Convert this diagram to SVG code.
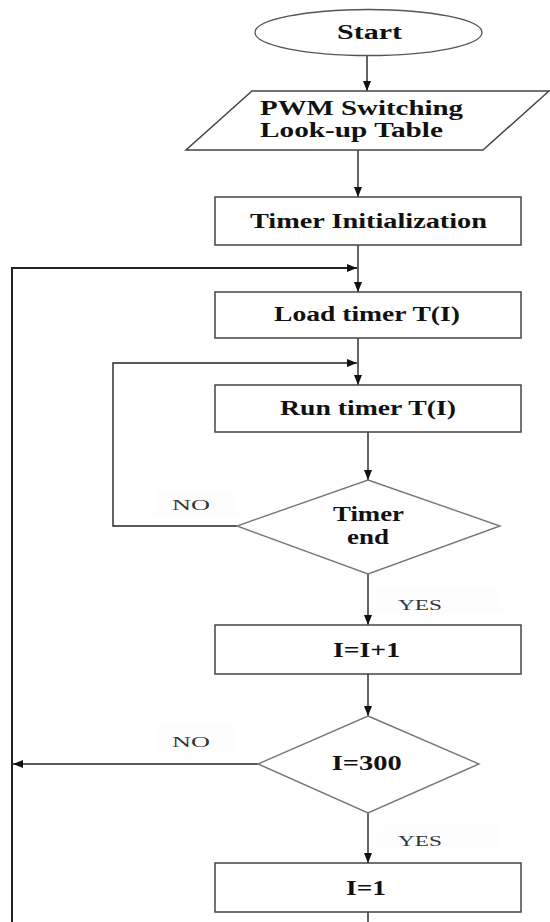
<svg xmlns="http://www.w3.org/2000/svg" width="550" height="922" viewBox="0 0 550 922">
<defs>
<style>
.box{fill:#fff;stroke:#444;stroke-width:1.5}
.dia{fill:#fff;stroke:#777;stroke-width:1.4}
.ln{fill:none;stroke:#222;stroke-width:1.4}
.t{font-family:"Liberation Serif","Times New Roman",serif;font-weight:bold;font-size:20px;fill:#111}
.lb{font-family:"Liberation Serif","Times New Roman",serif;font-size:14px;fill:#333}
.lbbg{fill:#fdfdfd;stroke:none}
</style>
<marker id="ah" markerUnits="userSpaceOnUse" markerWidth="10" markerHeight="10" viewBox="0 0 10 10" refX="10" refY="5" orient="auto">
<path d="M0,1 L10,5 L0,9 Z" fill="#111"/>
</marker>
</defs>
<rect width="550" height="922" fill="#fff"/>
<g id="connectors">
<line class="ln" x1="367" y1="55" x2="367" y2="91" marker-end="url(#ah)"/>
<line class="ln" x1="358" y1="150" x2="358" y2="197" marker-end="url(#ah)"/>
<line class="ln" x1="358" y1="245" x2="358" y2="292" marker-end="url(#ah)"/>
<polyline class="ln" points="12,922 12,268 357,268" style="stroke-width:2" marker-end="url(#ah)"/>
<line class="ln" x1="358" y1="338" x2="358" y2="385" marker-end="url(#ah)"/>
<polyline class="ln" points="237,526 113,526 113,363 357,363" marker-end="url(#ah)"/>
<line class="ln" x1="368" y1="432" x2="368" y2="480" marker-end="url(#ah)"/>
<line class="ln" x1="368" y1="574" x2="368" y2="625" marker-end="url(#ah)"/>
<line class="ln" x1="368" y1="674" x2="368" y2="716" marker-end="url(#ah)"/>
<line class="ln" x1="258" y1="764" x2="13" y2="764" marker-end="url(#ah)"/>
<line class="ln" x1="368" y1="813" x2="368" y2="863" marker-end="url(#ah)"/>
<line class="ln" x1="368" y1="912" x2="368" y2="922"/>
<rect class="lbbg" x="154" y="490" width="84" height="25"/>
<text class="lb" x="191" y="510" text-anchor="middle" textLength="38" lengthAdjust="spacingAndGlyphs">NO</text>
<rect class="lbbg" x="377" y="590" width="125" height="23"/>
<text class="lb" x="420" y="610" text-anchor="middle" textLength="44" lengthAdjust="spacingAndGlyphs">YES</text>
<rect class="lbbg" x="154" y="726" width="83" height="27"/>
<text class="lb" x="191" y="747" text-anchor="middle" textLength="38" lengthAdjust="spacingAndGlyphs">NO</text>
<rect class="lbbg" x="377" y="825" width="125" height="24"/>
<text class="lb" x="420" y="846" text-anchor="middle" textLength="44" lengthAdjust="spacingAndGlyphs">YES</text>
</g>
<g id="start">
<ellipse cx="368.5" cy="32.5" rx="113.5" ry="23" fill="#fff" stroke="#555" stroke-width="1.3"/>
<text class="t" x="369.5" y="39" text-anchor="middle" textLength="65" lengthAdjust="spacingAndGlyphs">Start</text>
</g>
<g id="pwm-table">
<polygon class="box" points="252,91 549,91 483,150 186,150"/>
<text class="t" x="260" y="115" textLength="203" lengthAdjust="spacingAndGlyphs">PWM Switching</text>
<text class="t" x="260" y="137" textLength="183" lengthAdjust="spacingAndGlyphs">Look-up Table</text>
</g>
<g id="timer-init">
<rect class="box" x="215" y="197" width="306" height="48"/>
<text class="t" x="368.5" y="228" text-anchor="middle" textLength="237" lengthAdjust="spacingAndGlyphs">Timer Initialization</text>
</g>
<g id="load-timer">
<rect class="box" x="215" y="292" width="306" height="46"/>
<text class="t" x="367" y="321" text-anchor="middle" textLength="186" lengthAdjust="spacingAndGlyphs">Load timer T(I)</text>
</g>
<g id="run-timer">
<rect class="box" x="215" y="385" width="306" height="47"/>
<text class="t" x="368" y="415" text-anchor="middle" textLength="176" lengthAdjust="spacingAndGlyphs">Run timer T(I)</text>
</g>
<g id="timer-end">
<polygon class="dia" points="368,480 500,526 368,574 237,526"/>
<text class="t" x="368.5" y="521" text-anchor="middle" textLength="71" lengthAdjust="spacingAndGlyphs">Timer</text>
<text class="t" x="368" y="544" text-anchor="middle" textLength="42" lengthAdjust="spacingAndGlyphs">end</text>
</g>
<g id="inc">
<rect class="box" x="215" y="625" width="306" height="49"/>
<text class="t" x="366.5" y="657" text-anchor="middle" textLength="67" lengthAdjust="spacingAndGlyphs">I=I+1</text>
</g>
<g id="check300">
<polygon class="dia" points="368,716 479,764 368,813 258,764"/>
<text class="t" x="366.7" y="770" text-anchor="middle" textLength="70" lengthAdjust="spacingAndGlyphs">I=300</text>
</g>
<g id="reset">
<rect class="box" x="215" y="863" width="306" height="49"/>
<text class="t" x="366" y="895" text-anchor="middle" textLength="40" lengthAdjust="spacingAndGlyphs">I=1</text>
</g>
</svg>
